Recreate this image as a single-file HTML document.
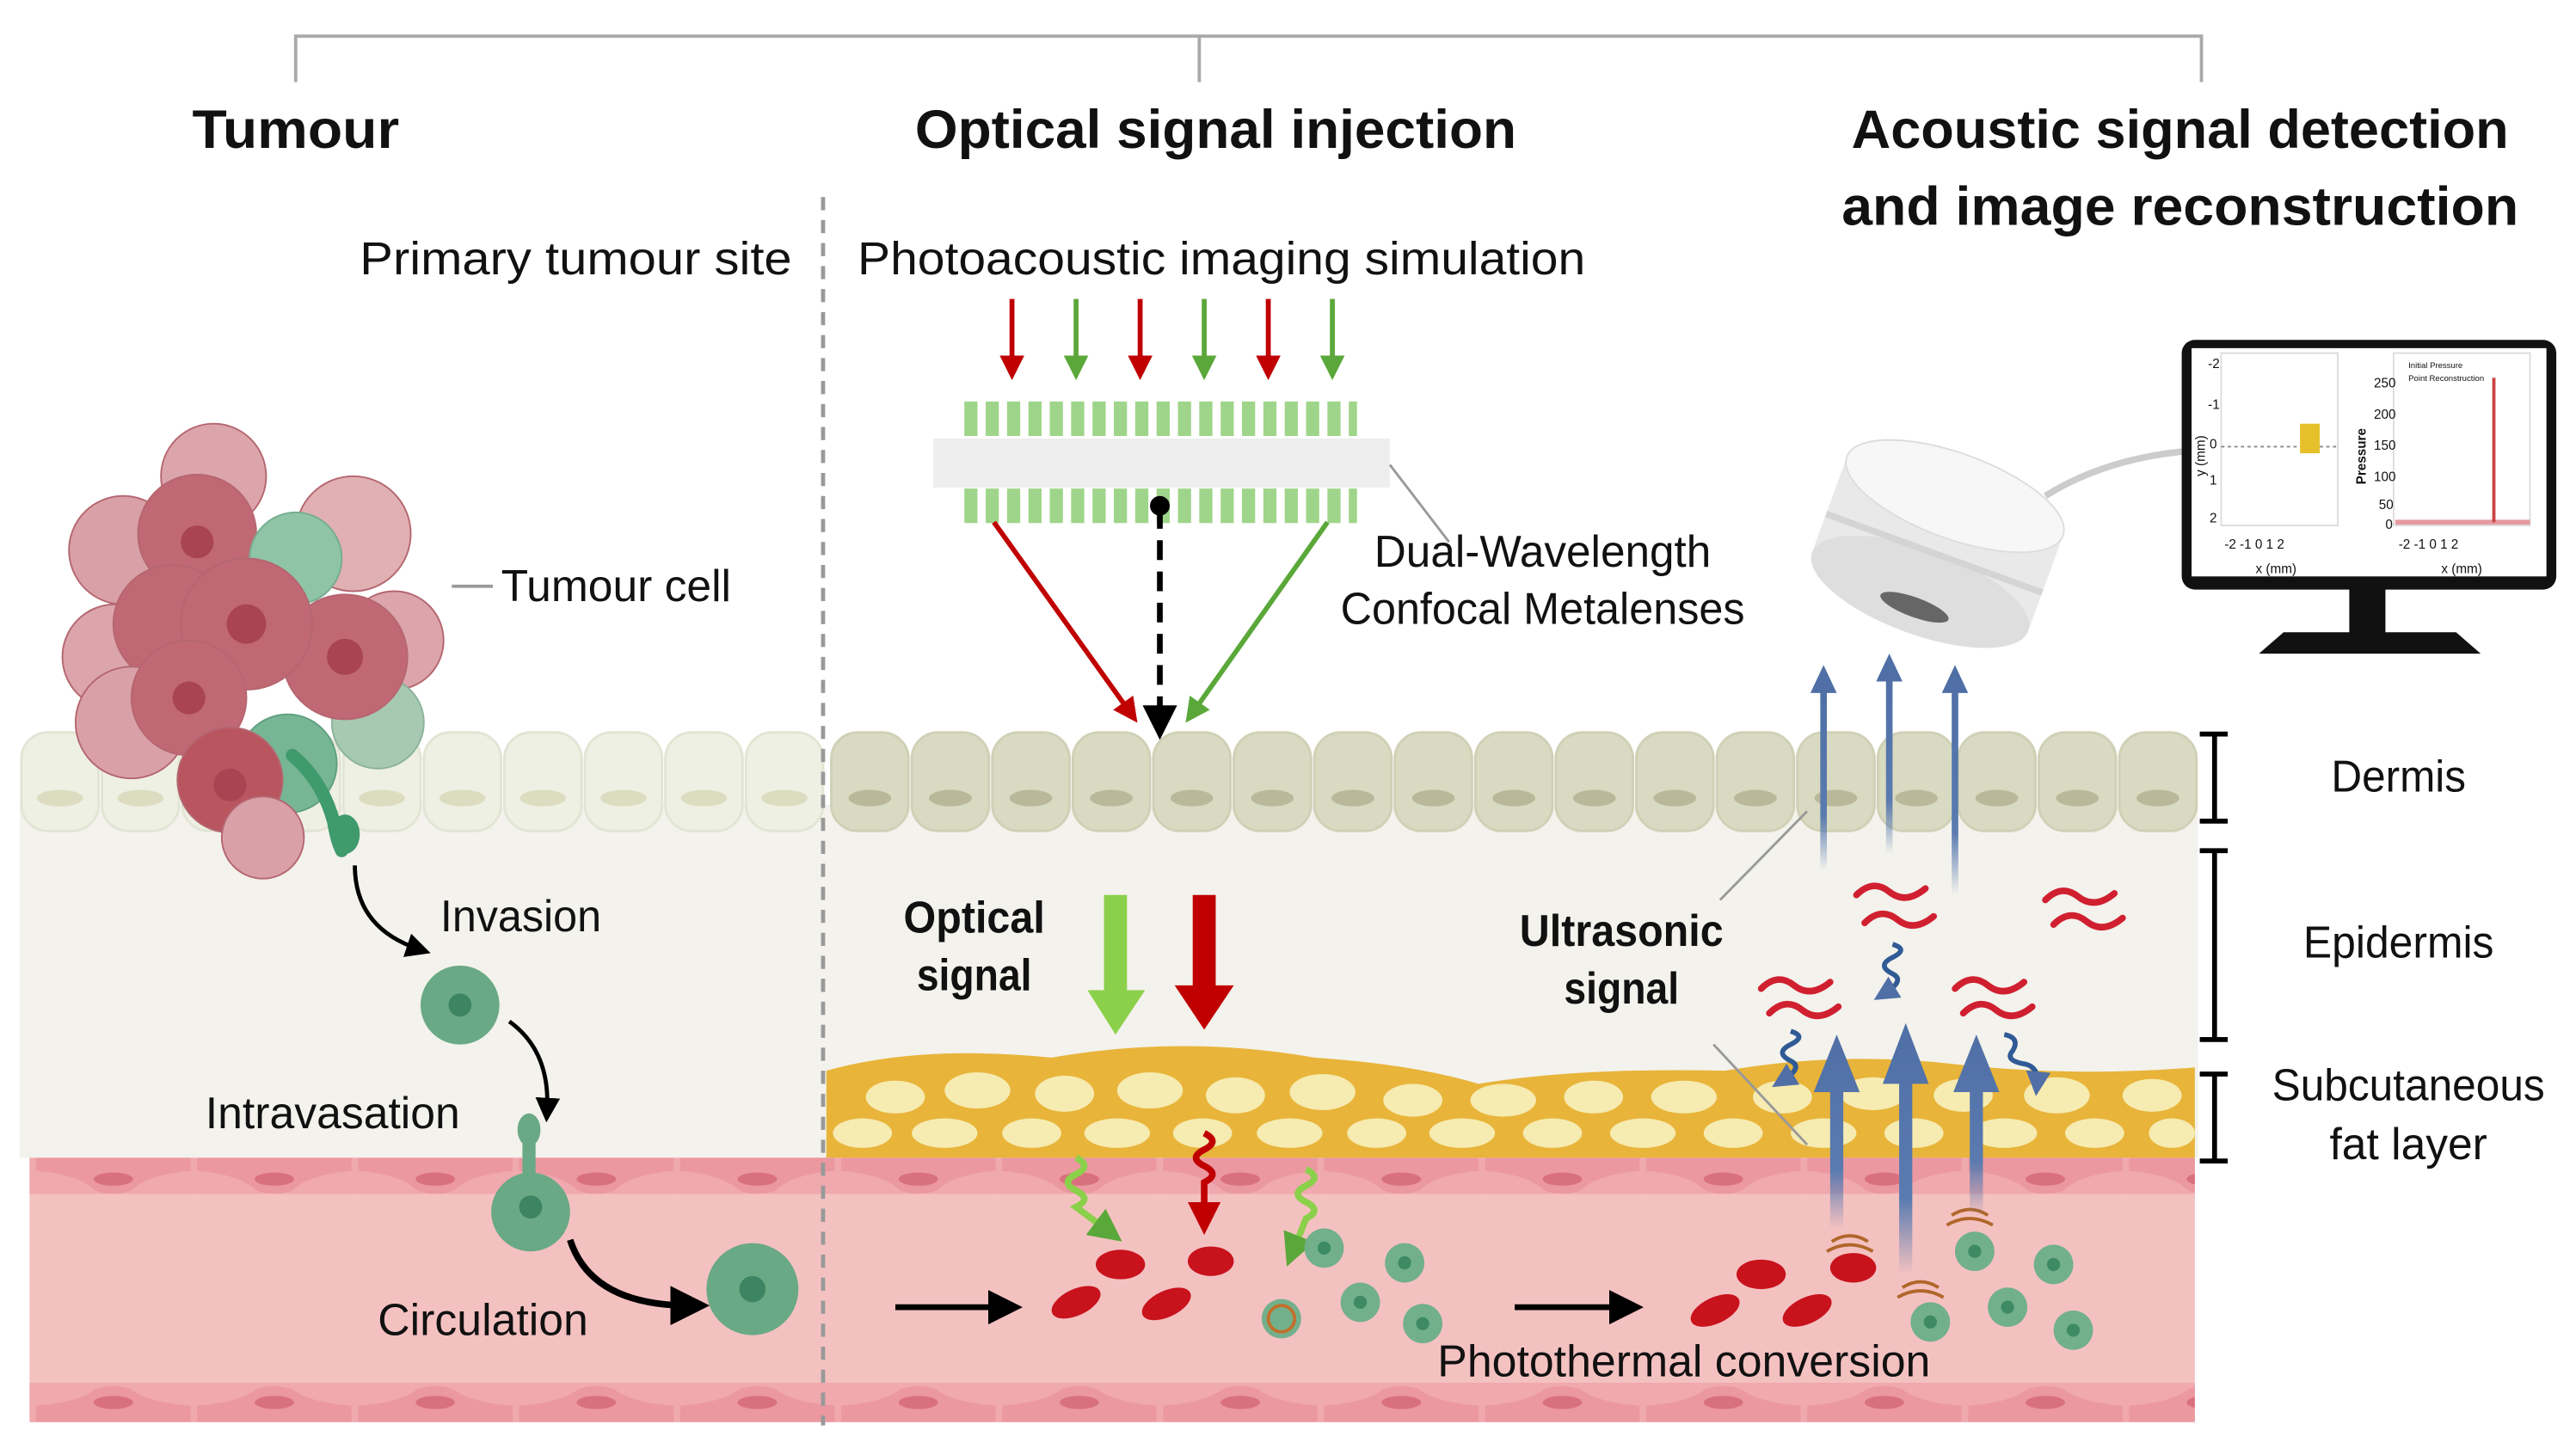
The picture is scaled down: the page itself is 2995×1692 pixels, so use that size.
<!DOCTYPE html>
<html><head><meta charset="utf-8"><style>
html,body{margin:0;padding:0;background:#fff;}
svg{display:block;}
text{font-family:"Liberation Sans",sans-serif;fill:#111;}
</style></head><body>
<svg width="2995" height="1692" viewBox="0 0 1568 886" preserveAspectRatio="none" xmlns="http://www.w3.org/2000/svg">
<defs>
<pattern id="cellL" x="12" y="445" width="49" height="62" patternUnits="userSpaceOnUse">
<rect x="1" y="1" width="47" height="60" rx="16" fill="#eef0e3" stroke="#e2e4d4" stroke-width="1.5"/>
<ellipse cx="24.5" cy="41" rx="14" ry="5" fill="#dcdcc0"/>
</pattern>
<pattern id="cellR" x="505" y="445" width="49" height="62" patternUnits="userSpaceOnUse">
<rect x="1" y="1" width="47" height="60" rx="16" fill="#d9dac2" stroke="#cfd0b5" stroke-width="1.5"/>
<ellipse cx="24.5" cy="41" rx="13" ry="5" fill="#b9b89a"/>
</pattern>
<pattern id="vesT" x="20" y="705" width="98" height="22" patternUnits="userSpaceOnUse">
<rect x="0" y="0" width="98" height="22" fill="#f0a9ae"/>
<path d="M2 0 H96 V8 Q70 10 60 20 Q49 24 38 20 Q28 10 2 8Z" fill="#eb98a0"/>
<ellipse cx="49" cy="13" rx="12" ry="4" fill="#d9707e"/>
</pattern>
<pattern id="vesB" x="20" y="842" width="98" height="24" patternUnits="userSpaceOnUse">
<rect x="0" y="0" width="98" height="24" fill="#f0a9ae"/>
<path d="M2 24 H96 V14 Q70 12 60 4 Q49 0 38 4 Q28 12 2 14Z" fill="#eb98a0"/>
<ellipse cx="49" cy="12" rx="12" ry="4" fill="#d9707e"/>
</pattern>
<linearGradient id="bu" x1="0" y1="1" x2="0" y2="0"><stop offset="0" stop-color="#5a7bb0" stop-opacity="0"/><stop offset="0.3" stop-color="#5a7bb0"/><stop offset="1" stop-color="#4f6fa6"/></linearGradient>
<marker id="ah" markerWidth="6" markerHeight="6" refX="3" refY="3" orient="auto" markerUnits="strokeWidth"><path d="M0,0 L6,3 L0,6Z" fill="#000"/></marker>
<marker id="ahr" markerWidth="5" markerHeight="5" refX="2.5" refY="2.5" orient="auto" markerUnits="strokeWidth"><path d="M0,0 L5,2.5 L0,5Z" fill="#c00000"/></marker>
<marker id="ahg" markerWidth="5" markerHeight="5" refX="2.5" refY="2.5" orient="auto" markerUnits="strokeWidth"><path d="M0,0 L5,2.5 L0,5Z" fill="#5aa83a"/></marker>
<marker id="ahb" markerWidth="5" markerHeight="5" refX="2.5" refY="2.5" orient="auto" markerUnits="strokeWidth"><path d="M0,0 L5,2.5 L0,5Z" fill="#4f6fa6"/></marker>
</defs>

<!-- bracket -->
<path d="M180 50 V22 H1340 V50 M730 22 V50" fill="none" stroke="#aaa" stroke-width="2"/>
<g font-weight="bold" font-size="33">
<text x="180" y="90" text-anchor="middle" textLength="126" lengthAdjust="spacingAndGlyphs">Tumour</text>
<text x="740" y="90" text-anchor="middle" textLength="366" lengthAdjust="spacingAndGlyphs">Optical signal injection</text>
<text x="1327" y="90" text-anchor="middle" textLength="400" lengthAdjust="spacingAndGlyphs">Acoustic signal detection</text>
<text x="1327" y="137" text-anchor="middle" textLength="412" lengthAdjust="spacingAndGlyphs">and image reconstruction</text>
</g>

<!-- backgrounds -->
<rect x="12" y="490" width="1326" height="215" fill="#f3f2ec"/>
<rect x="12" y="445" width="490" height="62" fill="url(#cellL)"/>
<rect x="505" y="445" width="833" height="62" fill="url(#cellR)"/>
<!-- fat -->
<path d="M503 652 Q560 636 640 644 Q720 630 800 644 Q860 648 900 660 Q960 650 1050 652 Q1120 640 1190 648 Q1260 656 1336 650 V705 H503Z" fill="#e8b43a"/>
<g fill="#f6ebb0">
<ellipse cx="545" cy="668" rx="18" ry="10"/><ellipse cx="595" cy="664" rx="20" ry="11"/><ellipse cx="648" cy="666" rx="18" ry="11"/><ellipse cx="700" cy="664" rx="20" ry="11"/><ellipse cx="752" cy="667" rx="18" ry="11"/><ellipse cx="805" cy="665" rx="20" ry="11"/><ellipse cx="860" cy="670" rx="18" ry="10"/><ellipse cx="915" cy="670" rx="20" ry="10"/><ellipse cx="970" cy="668" rx="18" ry="10"/><ellipse cx="1025" cy="668" rx="20" ry="10"/><ellipse cx="1085" cy="668" rx="18" ry="10"/><ellipse cx="1140" cy="666" rx="20" ry="10"/><ellipse cx="1195" cy="667" rx="18" ry="10"/><ellipse cx="1252" cy="667" rx="20" ry="11"/><ellipse cx="1310" cy="667" rx="18" ry="10"/>
<ellipse cx="525" cy="690" rx="18" ry="9"/><ellipse cx="575" cy="690" rx="20" ry="9"/><ellipse cx="628" cy="690" rx="18" ry="9"/><ellipse cx="680" cy="690" rx="20" ry="9"/><ellipse cx="732" cy="690" rx="18" ry="9"/><ellipse cx="785" cy="690" rx="20" ry="9"/><ellipse cx="838" cy="690" rx="18" ry="9"/><ellipse cx="890" cy="690" rx="20" ry="9"/><ellipse cx="945" cy="690" rx="18" ry="9"/><ellipse cx="1000" cy="690" rx="20" ry="9"/><ellipse cx="1055" cy="690" rx="18" ry="9"/><ellipse cx="1110" cy="690" rx="20" ry="9"/><ellipse cx="1165" cy="690" rx="18" ry="9"/><ellipse cx="1220" cy="690" rx="20" ry="9"/><ellipse cx="1275" cy="690" rx="18" ry="9"/><ellipse cx="1322" cy="690" rx="14" ry="9"/>
</g>
<!-- vessel -->
<rect x="18" y="705" width="1318" height="160" fill="#f4c1c1"/>
<rect x="18" y="705" width="1318" height="22" fill="url(#vesT)"/>
<rect x="18" y="842" width="1318" height="24" fill="url(#vesB)"/>

<!-- dashed divider -->
<line x1="501" y1="120" x2="501" y2="868" stroke="#999" stroke-width="2.5" stroke-dasharray="8,6"/>

<g font-size="28">
<text x="482" y="167" text-anchor="end" textLength="263" lengthAdjust="spacingAndGlyphs">Primary tumour site</text>
<text x="522" y="167" textLength="443" lengthAdjust="spacingAndGlyphs">Photoacoustic imaging simulation</text>
</g>

<!-- top arrows -->
<g stroke-width="3">
<line x1="616" y1="182" x2="616" y2="224" stroke="#c00000" marker-end="url(#ahr)"/>
<line x1="655" y1="182" x2="655" y2="224" stroke="#5aa83a" marker-end="url(#ahg)"/>
<line x1="694" y1="182" x2="694" y2="224" stroke="#c00000" marker-end="url(#ahr)"/>
<line x1="733" y1="182" x2="733" y2="224" stroke="#5aa83a" marker-end="url(#ahg)"/>
<line x1="772" y1="182" x2="772" y2="224" stroke="#c00000" marker-end="url(#ahr)"/>
<line x1="811" y1="182" x2="811" y2="224" stroke="#5aa83a" marker-end="url(#ahg)"/>
</g>
<!-- metalens -->
<line x1="587" y1="255" x2="826" y2="255" stroke="#9fd58a" stroke-width="21" stroke-dasharray="8,5"/>
<rect x="568" y="267" width="278" height="30" fill="#eeeeee"/>
<line x1="587" y1="308" x2="826" y2="308" stroke="#9fd58a" stroke-width="21" stroke-dasharray="8,5"/>
<line x1="605" y1="318" x2="688" y2="434" stroke="#c00000" stroke-width="3" marker-end="url(#ahr)"/>
<line x1="808" y1="318" x2="726" y2="434" stroke="#5aa83a" stroke-width="3" marker-end="url(#ahg)"/>
<circle cx="706" cy="308" r="6" fill="#000"/>
<line x1="706" y1="310" x2="706" y2="440" stroke="#000" stroke-width="3.5" stroke-dasharray="12,7" marker-end="url(#ah)"/>
<line x1="846" y1="283" x2="882" y2="330" stroke="#999" stroke-width="1.5"/>
<g font-size="27">
<text x="939" y="345" text-anchor="middle" textLength="205" lengthAdjust="spacingAndGlyphs">Dual-Wavelength</text>
<text x="939" y="380" text-anchor="middle" textLength="246" lengthAdjust="spacingAndGlyphs">Confocal Metalenses</text>
</g>

<!-- tumour cluster -->
<g stroke="#b56670" stroke-width="1">
<circle cx="130" cy="290" r="32" fill="#dba5ab"/>
<circle cx="75" cy="335" r="33" fill="#d9a1a7"/>
<circle cx="215" cy="325" r="35" fill="#e0b0b3"/>
<circle cx="120" cy="325" r="36" fill="#c06873"/>
<circle cx="240" cy="390" r="30" fill="#dba5ab"/>
<circle cx="70" cy="400" r="32" fill="#dba5ab"/>
<circle cx="105" cy="380" r="36" fill="#c06873"/>
<circle cx="80" cy="440" r="34" fill="#d9a1a7"/>
<circle cx="230" cy="440" r="28" fill="#a7c9b2" stroke="#8bb39a"/>
<circle cx="180" cy="340" r="28" fill="#8fc4a6" stroke="#75ad8e"/>
<circle cx="210" cy="400" r="38" fill="#c06873"/>
<circle cx="150" cy="380" r="40" fill="#c06873"/>
<circle cx="115" cy="425" r="35" fill="#c06873"/>
<circle cx="175" cy="465" r="30" fill="#76b694" stroke="#5f9f7e"/>
<circle cx="140" cy="475" r="32" fill="#b9555f"/>
<circle cx="160" cy="510" r="25" fill="#d9a1a7"/>
</g>
<g fill="#a94453"><circle cx="150" cy="380" r="12"/><circle cx="210" cy="400" r="11"/><circle cx="115" cy="425" r="10"/><circle cx="140" cy="478" r="10"/><circle cx="120" cy="330" r="10"/></g>
<path d="M178 460 Q196 475 203 500 Q205 512 208 518" stroke="#3f9a6c" stroke-width="8" fill="none" stroke-linecap="round"/>
<ellipse cx="210" cy="508" rx="9" ry="12" fill="#3f9a6c"/>
<line x1="275" y1="357" x2="300" y2="357" stroke="#999" stroke-width="2"/>
<g font-size="27">
<text x="305" y="366" textLength="140" lengthAdjust="spacingAndGlyphs">Tumour cell</text>
<text x="268" y="567" textLength="98" lengthAdjust="spacingAndGlyphs">Invasion</text>
<text x="125" y="687" textLength="155" lengthAdjust="spacingAndGlyphs">Intravasation</text>
<text x="230" y="813" textLength="128" lengthAdjust="spacingAndGlyphs">Circulation</text>
<text x="1025" y="838" text-anchor="middle" textLength="300" lengthAdjust="spacingAndGlyphs">Photothermal conversion</text>
<text x="1460" y="482" text-anchor="middle" textLength="82" lengthAdjust="spacingAndGlyphs">Dermis</text>
<text x="1460" y="583" text-anchor="middle" textLength="116" lengthAdjust="spacingAndGlyphs">Epidermis</text>
<text x="1466" y="670" text-anchor="middle" textLength="166" lengthAdjust="spacingAndGlyphs">Subcutaneous</text>
<text x="1466" y="706" text-anchor="middle" textLength="96" lengthAdjust="spacingAndGlyphs">fat layer</text>
</g>

<!-- tumour pathway -->
<path d="M216 527 Q216 565 255 578" stroke="#000" stroke-width="2.5" fill="none" marker-end="url(#ah)"/>
<circle cx="280" cy="612" r="24" fill="#6aa985"/><circle cx="280" cy="612" r="7" fill="#3d8462"/>
<path d="M310 622 Q335 640 333 676" stroke="#000" stroke-width="2.5" fill="none" marker-end="url(#ah)"/>
<ellipse cx="322" cy="688" rx="7" ry="10" fill="#6aa985"/>
<rect x="318" y="690" width="8" height="30" fill="#6aa985"/>
<circle cx="323" cy="738" r="24" fill="#6aa985"/><circle cx="323" cy="735" r="7" fill="#3d8462"/>
<path d="M347 755 Q360 795 420 795" stroke="#000" stroke-width="4" fill="none" marker-end="url(#ah)"/>
<circle cx="458" cy="785" r="28" fill="#6aa985"/><circle cx="458" cy="785" r="8" fill="#3d8462"/>

<!-- optical signal -->
<g font-size="27" font-weight="bold">
<text x="593" y="568" text-anchor="middle" textLength="86" lengthAdjust="spacingAndGlyphs">Optical</text>
<text x="593" y="603" text-anchor="middle" textLength="70" lengthAdjust="spacingAndGlyphs">signal</text>
<text x="987" y="576" text-anchor="middle" textLength="124" lengthAdjust="spacingAndGlyphs">Ultrasonic</text>
<text x="987" y="611" text-anchor="middle" textLength="70" lengthAdjust="spacingAndGlyphs">signal</text>
</g>
<polygon points="672,545 686,545 686,603 697,603 679,630 662,603 672,603" fill="#8bd04a"/>
<polygon points="726,545 740,545 740,600 751,600 733,627 715,600 726,600" fill="#c00000"/>

<path d="M655 705 q10 5 0 10 q-10 5 0 10 q10 5 0 10 l20 15" stroke="#8bd04a" stroke-width="4" fill="none" marker-end="url(#ahg)"/>
<path d="M733 690 q10 5 0 10 q-10 5 0 10 q10 5 0 10 l0 22" stroke="#c00000" stroke-width="4" fill="none" marker-end="url(#ahr)"/>
<path d="M795 712 q10 5 0 10 q-10 5 0 10 q10 5 0 10 l-8 20" stroke="#8bd04a" stroke-width="4" fill="none" marker-end="url(#ahg)"/>
<g fill="#c8121c">
<ellipse cx="682" cy="770" rx="15" ry="9"/><ellipse cx="737" cy="768" rx="14" ry="9"/><ellipse cx="655" cy="793" rx="16" ry="8" transform="rotate(-25 655 793)"/><ellipse cx="710" cy="794" rx="16" ry="8" transform="rotate(-25 710 794)"/>
<ellipse cx="1072" cy="776" rx="15" ry="9"/><ellipse cx="1128" cy="772" rx="14" ry="9"/><ellipse cx="1044" cy="798" rx="16" ry="8" transform="rotate(-25 1044 798)"/><ellipse cx="1100" cy="798" rx="16" ry="8" transform="rotate(-25 1100 798)"/>
</g>
<g fill="#72b08c">
<circle cx="806" cy="760" r="12"/><circle cx="855" cy="769" r="12"/><circle cx="828" cy="793" r="12"/><circle cx="866" cy="806" r="12"/><circle cx="780" cy="803" r="12"/>
<circle cx="1202" cy="762" r="12"/><circle cx="1250" cy="770" r="12"/><circle cx="1222" cy="796" r="12"/><circle cx="1262" cy="810" r="12"/><circle cx="1175" cy="805" r="12"/>
</g>
<g fill="#3e8b63"><circle cx="806" cy="760" r="4"/><circle cx="855" cy="769" r="4"/><circle cx="828" cy="793" r="4"/><circle cx="866" cy="806" r="4"/><circle cx="1202" cy="762" r="4"/><circle cx="1250" cy="770" r="4"/><circle cx="1222" cy="796" r="4"/><circle cx="1262" cy="810" r="4"/><circle cx="1175" cy="805" r="4"/></g>
<circle cx="780" cy="803" r="8" fill="none" stroke="#c0702a" stroke-width="2"/>
<line x1="545" y1="796" x2="612" y2="796" stroke="#000" stroke-width="3.5" marker-end="url(#ah)"/>
<line x1="922" y1="796" x2="990" y2="796" stroke="#000" stroke-width="3.5" marker-end="url(#ah)"/>
<g stroke="#b0672a" stroke-width="2" fill="none">
<path d="M1112 762 q14 -8 28 0 M1115 756 q11 -7 22 0"/><path d="M1155 790 q14 -8 28 0 M1158 784 q11 -7 22 0"/><path d="M1185 746 q14 -8 28 0 M1188 740 q11 -7 22 0"/>
</g>

<!-- ultrasonic -->
<line x1="1047" y1="548" x2="1100" y2="494" stroke="#999" stroke-width="1.5"/>
<line x1="1043" y1="636" x2="1100" y2="697" stroke="#999" stroke-width="1.5"/>
<!-- thin blue arrows -->
<g fill="url(#bu)">
<rect x="1108" y="418" width="4" height="112"/><rect x="1148" y="412" width="4" height="108"/><rect x="1188" y="418" width="4" height="127"/>
</g>
<g fill="#4f6fa6"><polygon points="1110,405 1102,422 1118,422"/><polygon points="1150,398 1142,415 1158,415"/><polygon points="1190,405 1182,422 1198,422"/></g>
<!-- big blue arrows -->
<g fill="url(#bu)">
<polygon points="1114,748 1122,748 1122,665 1132,665 1118,630 1104,665 1114,665"/>
<polygon points="1156,776 1164,776 1164,660 1174,660 1160,623 1146,660 1156,660"/>
<polygon points="1199,740 1207,740 1207,665 1217,665 1203,630 1189,665 1199,665"/>
</g>
<g stroke="#d02030" stroke-width="4" fill="none" stroke-linecap="round">
<path d="M1130 545 q10 -10 20 -2 q10 8 22 -2 M1135 562 q10 -10 20 -2 q10 8 22 -2"/>
<path d="M1245 548 q10 -10 20 -2 q10 8 22 -2 M1250 563 q10 -10 20 -2 q10 8 22 -2"/>
<path d="M1072 602 q10 -10 20 -2 q10 8 22 -2 M1077 617 q10 -10 20 -2 q10 8 22 -2"/>
<path d="M1190 602 q10 -10 20 -2 q10 8 22 -2 M1195 617 q10 -10 20 -2 q10 8 22 -2"/>
</g>
<g stroke="#2f5a95" stroke-width="3" fill="none">
<path d="M1152 575 q10 3 0 8 q-10 5 0 10 q8 4 -5 12" marker-end="url(#ahb)"/>
<path d="M1090 628 q10 3 0 8 q-10 5 0 10 q8 4 -5 12" marker-end="url(#ahb)"/>
<path d="M1220 630 q10 2 5 10 q-5 6 8 8 q8 2 7 12" marker-end="url(#ahb)"/>
</g>

<!-- transducer -->
<path d="M1245 302 Q1280 280 1328 275" stroke="#ccc" stroke-width="4" fill="none"/>
<g transform="rotate(20 1178 335)">
<rect x="1108" y="300" width="140" height="62" fill="#e9e9e9"/>
<ellipse cx="1178" cy="362" rx="70" ry="26" fill="#dedede"/>
<rect x="1108" y="335" width="140" height="4" fill="#d4d4d4"/>
<ellipse cx="1178" cy="300" rx="70" ry="26" fill="#f7f7f7" stroke="#ddd"/>
<ellipse cx="1178" cy="372" rx="22" ry="6" fill="#666"/>
</g>

<!-- monitor -->
<rect x="1328" y="207" width="228" height="152" rx="8" fill="#111"/>
<rect x="1334" y="212" width="216" height="139" fill="#fff"/>
<rect x="1430" y="358" width="22" height="28" fill="#111"/>
<polygon points="1390,385 1495,385 1510,398 1375,398" fill="#111"/>
<rect x="1352" y="215" width="71" height="105" fill="none" stroke="#ddd"/>
<line x1="1352" y1="272" x2="1423" y2="272" stroke="#888" stroke-dasharray="2,2"/>
<rect x="1400" y="258" width="12" height="18" fill="#e6c02a"/>
<rect x="1457" y="215" width="83" height="105" fill="none" stroke="#ddd"/>
<line x1="1458" y1="318" x2="1540" y2="318" stroke="#e59aa0" stroke-width="3"/>
<line x1="1518" y1="230" x2="1518" y2="318" stroke="#c44" stroke-width="2"/>
<g font-size="8" fill="#111">
<text x="1344" y="224">-2</text><text x="1344" y="249">-1</text><text x="1345" y="273">0</text><text x="1345" y="295">1</text><text x="1345" y="318">2</text>
<text x="1354" y="334">-2 -1  0  1  2</text><text x="1373" y="349">x (mm)</text>
<text x="1445" y="236">250</text><text x="1445" y="255">200</text><text x="1445" y="274">150</text><text x="1445" y="293">100</text><text x="1448" y="310">50</text><text x="1452" y="322">0</text>
<text x="1460" y="334">-2 -1  0  1  2</text><text x="1486" y="349">x (mm)</text>
<text x="1466" y="224" font-size="5">Initial Pressure</text><text x="1466" y="232" font-size="5">Point Reconstruction</text>
<text transform="translate(1342 290) rotate(-90)">y (mm)</text>
<text transform="translate(1440 295) rotate(-90)" font-weight="bold">Pressure</text>
</g>

<!-- scale bars -->
<g stroke="#000" stroke-width="3">
<path d="M1339 447 H1356 M1348 447 V500 M1339 500 H1356"/>
<path d="M1339 518 H1356 M1348 518 V633 M1339 633 H1356"/>
<path d="M1339 654 H1356 M1348 654 V707 M1339 707 H1356"/>
</g>
</svg>
</body></html>
